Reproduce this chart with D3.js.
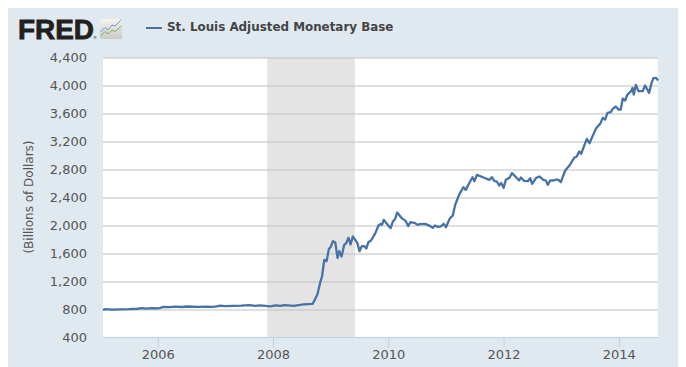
<!DOCTYPE html>
<html>
<head>
<meta charset="utf-8">
<script src="https://cdnjs.cloudflare.com/ajax/libs/d3/7.8.5/d3.min.js"></script>
<style>
  html, body { margin: 0; padding: 0; background: #fff; }
  svg { display: block; }
  text { font-family: "DejaVu Sans", sans-serif; }
</style>
</head>
<body>
<svg id="chart" width="686" height="367"></svg>
<script>
// values, dates as decimal years
var seriesName = "St. Louis Adjusted Monetary Base";
var yTicks = [400, 800, 1200, 1600, 2000, 2400, 2800, 3200, 3600, 4000, 4400];
var xTicks = [2006, 2008, 2010, 2012, 2014];
var recession = [2007.9, 2009.42];

var dates = [
  2005.05, 2005.1, 2005.2, 2005.35, 2005.5, 2005.65, 2005.72, 2005.8, 2005.9, 2006.0, 2006.05, 2006.1,
  2006.2, 2006.3, 2006.42, 2006.5, 2006.7, 2006.85, 2006.95, 2007.03, 2007.08, 2007.16, 2007.3, 2007.45, 2007.6, 2007.68,
  2007.78, 2007.95, 2008.05, 2008.12, 2008.2, 2008.36, 2008.53, 2008.69,
  2008.77, 2008.82, 2008.85, 2008.89, 2008.93, 2008.97, 2009.0, 2009.04, 2009.08, 2009.12, 2009.15, 2009.19,
  2009.235, 2009.27, 2009.31, 2009.345, 2009.385, 2009.425, 2009.465, 2009.5, 2009.54, 2009.58, 2009.62, 2009.655,
  2009.7, 2009.77, 2009.83, 2009.87, 2009.89, 2009.92, 2009.975, 2010.04, 2010.08, 2010.12, 2010.155, 2010.235,
  2010.305, 2010.345, 2010.385, 2010.465, 2010.505, 2010.55, 2010.64, 2010.73, 2010.77, 2010.81, 2010.85, 2010.91,
  2010.96, 2011.0, 2011.07, 2011.12, 2011.16, 2011.236, 2011.305, 2011.346, 2011.392, 2011.461, 2011.496, 2011.537,
  2011.652, 2011.71, 2011.756, 2011.797, 2011.843, 2011.883, 2011.924, 2011.959, 2012.0, 2012.04, 2012.103, 2012.144,
  2012.2, 2012.27, 2012.3, 2012.358, 2012.421, 2012.462, 2012.496, 2012.566, 2012.624, 2012.693, 2012.733, 2012.768,
  2012.809, 2012.866, 2012.913, 2012.953, 2012.994, 2013.069, 2013.144, 2013.225, 2013.271, 2013.312, 2013.346, 2013.445,
  2013.491, 2013.601, 2013.676, 2013.722, 2013.763, 2013.803, 2013.861, 2013.89, 2013.948, 2013.994, 2014.034, 2014.069,
  2014.11, 2014.15, 2014.214, 2014.237, 2014.26, 2014.295, 2014.341, 2014.416, 2014.456, 2014.526, 2014.566, 2014.6,
  2014.647, 2014.682
];
var values = [
  802, 812, 806, 809, 812, 818, 826, 820, 826, 822, 830, 844,
  840, 847, 843, 850, 846, 849, 844, 852, 862, 856, 858, 862, 869, 860,
  866, 852, 866, 858, 870, 860, 879, 888,
  1022, 1198, 1279, 1517, 1498, 1674, 1698, 1783, 1764, 1545, 1640, 1564,
  1731, 1755, 1831, 1736, 1850, 1802, 1755, 1640, 1712, 1712, 1679, 1769,
  1793, 1888, 2007, 2031, 2017, 2088, 2031, 1969, 2064, 2102, 2193, 2112,
  2069, 1998, 2055, 2041, 2017, 2026, 2031, 1998, 1974, 2007, 1988, 1993,
  2031, 1983, 2110, 2150, 2300, 2459, 2555, 2516, 2593, 2697, 2640, 2731,
  2693, 2674, 2659, 2697, 2640, 2636, 2578, 2616, 2545, 2659, 2688, 2755,
  2712, 2650, 2693, 2645, 2640, 2683, 2602, 2688, 2707, 2659, 2650, 2588,
  2650, 2650, 2664, 2659, 2626, 2793, 2864, 2974, 2993, 3064, 3031, 3245,
  3183, 3388, 3459, 3545, 3521, 3616, 3626, 3669, 3707, 3664, 3664, 3821,
  3793, 3878, 3926, 3974, 3878, 4017, 3926, 3926, 4007, 3902, 4040, 4112,
  4117, 4078
];

var width = 686, height = 367;
var margin = {top: 58, right: 28, bottom: 29, left: 103};

var svg = d3.select("#chart");

// background panel
svg.append("rect")
  .attr("x", 8).attr("y", 8)
  .attr("width", 670).attr("height", 359)
  .attr("fill", "#e1e9f0");

svg.append("rect")
  .attr("x", margin.left).attr("y", margin.top)
  .attr("width", width - margin.left - margin.right)
  .attr("height", height - margin.top - margin.bottom)
  .attr("fill", "#fff");

var x = d3.scaleLinear()
  .domain([2005.05, 2014.68])
  .range([margin.left, width - margin.right]);

var y = d3.scaleLinear()
  .domain([400, 4400])
  .range([height - margin.bottom, margin.top]);

// recession band
svg.append("rect")
  .attr("x", x(recession[0]))
  .attr("y", margin.top)
  .attr("width", x(recession[1]) - x(recession[0]))
  .attr("height", height - margin.top - margin.bottom)
  .attr("fill", "#e4e4e4");

// y axis with gridlines
var yAxis = svg.append("g")
  .attr("transform", "translate(" + margin.left + ",-0.5)")
  .call(d3.axisLeft(y)
    .tickValues(yTicks)
    .tickFormat(d3.format(","))
    .tickSize(-(width - margin.left - margin.right))
    .tickPadding(16));
yAxis.select(".domain").remove();
yAxis.selectAll("line").attr("stroke", "#c0c0c0");
yAxis.selectAll("line")
  .filter(function(d) { return d == 400; })
  .attr("stroke", "none");
yAxis.selectAll("text")
  .attr("fill", "#555")
  .style("font-size", "13px");

// x axis
var xAxis = svg.append("g")
  .attr("transform", "translate(0," + (height - margin.bottom - 0.5) + ")")
  .call(d3.axisBottom(x)
    .tickValues(xTicks)
    .tickFormat(d3.format("d"))
    .tickSize(10)
    .tickPadding(2));
xAxis.select(".domain")
  .attr("stroke", "#c0d0e0")
  .attr("d", "M" + margin.left + ",0H" + (width - margin.right));
xAxis.selectAll("line").attr("stroke", "#c0d0e0");
xAxis.selectAll("text")
  .attr("fill", "#555")
  .style("font-size", "13px");

// the series
var line = d3.line()
  .x(function(d, i) { return x(dates[i]); })
  .y(function(d) { return y(d); });

svg.append("path")
  .datum(values)
  .attr("d", line)
  .attr("fill", "none")
  .attr("stroke", "#4572a7")
  .attr("stroke-width", 2.3)
  .attr("stroke-linejoin", "round");

// axis title
svg.append("text")
  .attr("transform", "translate(33,197) rotate(-90)")
  .attr("text-anchor", "middle")
  .attr("fill", "#555")
  .style("font-size", "12px")
  .text("(Billions of Dollars)");

// legend
svg.append("line")
  .attr("x1", 146).attr("x2", 162)
  .attr("y1", 28).attr("y2", 28)
  .attr("stroke", "#4572a7")
  .attr("stroke-width", 2);
svg.append("text")
  .attr("x", 167).attr("y", 31)
  .attr("fill", "#444")
  .style("font-size", "11.9px")
  .style("font-weight", "bold")
  .text(seriesName);

// FRED logo
svg.append("text")
  .attr("x", 18).attr("y", 38.5)
  .attr("fill", "#231f20")
  .attr("stroke", "#231f20")
  .attr("stroke-width", 0.8)
  .attr("textLength", 76)
  .attr("lengthAdjust", "spacingAndGlyphs")
  .style("font-family", "'Liberation Sans', sans-serif")
  .style("font-size", "27px")
  .style("font-weight", "bold")
  .text("FRED");
svg.append("text")
  .attr("x", 93).attr("y", 39)
  .attr("fill", "#231f20")
  .style("font-size", "4px")
  .text("®");

var grad = svg.append("defs").append("linearGradient")
  .attr("id", "iconFill")
  .attr("x1", 0).attr("x2", 0).attr("y1", 0).attr("y2", 1);
grad.append("stop").attr("offset", "0%").attr("stop-color", "#f4f4f2");
grad.append("stop").attr("offset", "100%").attr("stop-color", "#c9cbc7");

svg.append("rect")
  .attr("x", 100).attr("y", 19)
  .attr("width", 22).attr("height", 20)
  .attr("rx", 1.5)
  .attr("fill", "url(#iconFill)");
svg.append("path")
  .attr("d", "M100.5,32L105,27.5L108,30L112,25L115,26L121.5,19.5")
  .attr("fill", "none").attr("stroke", "#6f9cc4").attr("stroke-width", 1);
svg.append("path")
  .attr("d", "M100.5,36L105,31.5L108,34L112,30L115,31.5L121.5,26")
  .attr("fill", "none").attr("stroke", "#8aa85a").attr("stroke-width", 1);
</script>
</body>
</html>
